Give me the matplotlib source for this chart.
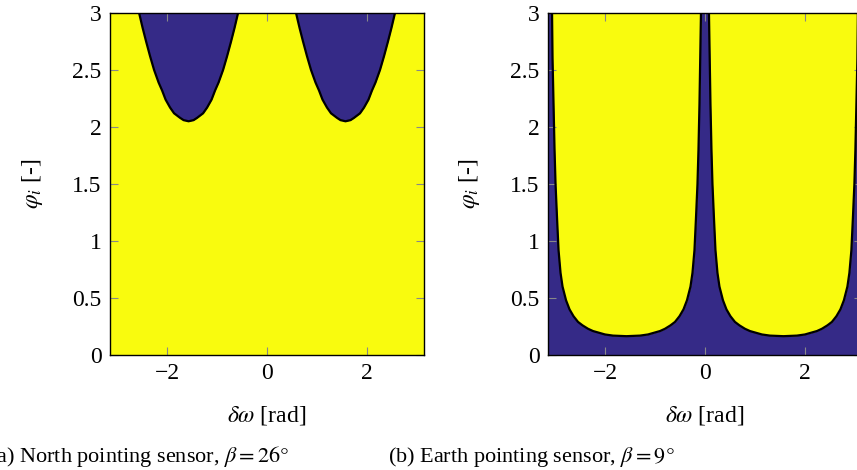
#!/usr/bin/env python3
"""Feasible attitude regions for the two sensor configurations."""

import matplotlib
matplotlib.use("Agg")
import matplotlib.pyplot as plt

# (a) north pointing sensor: infeasible lobes above the boundary
north_lobe1_x = [-2.56, -2.49, -2.42, -2.34, -2.26, -2.17, -2.10, -2.03,
                 -1.94, -1.86, -1.74, -1.67, -1.57, -1.47, -1.40, -1.28,
                 -1.20, -1.11, -1.04, -0.97, -0.88, -0.80, -0.72, -0.65,
                 -0.58]
north_lobe1_y = [3.00, 2.87, 2.75, 2.62, 2.50, 2.39, 2.32, 2.24,
                 2.17, 2.12, 2.08, 2.06, 2.05, 2.06, 2.08, 2.12,
                 2.17, 2.24, 2.32, 2.39, 2.50, 2.62, 2.75, 2.87,
                 3.00]
north_lobe2_x = [0.58, 0.65, 0.72, 0.80, 0.88, 0.97, 1.04, 1.11,
                 1.20, 1.28, 1.40, 1.47, 1.57, 1.67, 1.74, 1.86,
                 1.94, 2.03, 2.10, 2.17, 2.26, 2.34, 2.42, 2.49,
                 2.56]
north_lobe2_y = [3.00, 2.87, 2.75, 2.62, 2.50, 2.39, 2.32, 2.24,
                 2.17, 2.12, 2.08, 2.06, 2.05, 2.06, 2.08, 2.12,
                 2.17, 2.24, 2.32, 2.39, 2.50, 2.62, 2.75, 2.87,
                 3.00]

# (b) earth pointing sensor: feasible lobes above the boundary
earth_lobe1_x = [-3.06, -3.05, -3.03, -3.01, -2.99, -2.96, -2.93, -2.89,
                 -2.85, -2.78, -2.71, -2.63, -2.54, -2.45, -2.34, -2.24,
                 -2.12, -2.00, -1.84, -1.57, -1.30, -1.14, -1.02, -0.90,
                 -0.80, -0.69, -0.60, -0.51, -0.43, -0.36, -0.29, -0.25,
                 -0.21, -0.18, -0.15, -0.13, -0.11, -0.095, -0.08]
earth_lobe1_y = [3.00, 2.60, 2.20, 1.80, 1.50, 1.20, 0.92, 0.72,
                 0.60, 0.48, 0.40, 0.34, 0.29, 0.26, 0.23, 0.21,
                 0.195, 0.18, 0.17, 0.165, 0.17, 0.18, 0.195, 0.21,
                 0.23, 0.26, 0.29, 0.34, 0.40, 0.48, 0.60, 0.72,
                 0.92, 1.20, 1.50, 1.80, 2.20, 2.60, 3.00]
earth_lobe2_x = [0.08, 0.095, 0.11, 0.13, 0.15, 0.18, 0.21, 0.25,
                 0.29, 0.36, 0.43, 0.51, 0.60, 0.69, 0.80, 0.90,
                 1.02, 1.14, 1.30, 1.57, 1.84, 2.00, 2.12, 2.24,
                 2.34, 2.45, 2.54, 2.63, 2.71, 2.78, 2.85, 2.89,
                 2.93, 2.96, 2.99, 3.01, 3.03, 3.05, 3.06]
earth_lobe2_y = [3.00, 2.60, 2.20, 1.80, 1.50, 1.20, 0.92, 0.72,
                 0.60, 0.48, 0.40, 0.34, 0.29, 0.26, 0.23, 0.21,
                 0.195, 0.18, 0.17, 0.165, 0.17, 0.18, 0.195, 0.21,
                 0.23, 0.26, 0.29, 0.34, 0.40, 0.48, 0.60, 0.72,
                 0.92, 1.20, 1.50, 1.80, 2.20, 2.60, 3.00]

x_ticks = [-2, 0, 2]
y_ticks = [0, 0.5, 1, 1.5, 2, 2.5, 3]
y_tick_labels = ["0", "0.5", "1", "1.5", "2", "2.5", "3"]
captions = [r"(a) North pointing sensor, $\beta = 26°$",
            r"(b) Earth pointing sensor, $\beta = 9°$"]

YELLOW = "#f9fb0e"
BLUE = "#352a87"
X_MIN, X_MAX = -3.1416, 3.1416
Y_MIN, Y_MAX = 0, 3

plt.rcParams["font.family"] = ["Liberation Serif", "DejaVu Serif"]
plt.rcParams["mathtext.fontset"] = "stix"
plt.rcParams["font.size"] = 16


def style_axes(ax):
    ax.set_xlim(X_MIN, X_MAX)
    ax.set_ylim(Y_MIN, Y_MAX)
    ax.set_xticks(x_ticks)
    ax.set_xticklabels([f"{t}".replace("-", "\u2212") for t in x_ticks])
    ax.set_yticks(y_ticks)
    ax.set_yticklabels(y_tick_labels)
    ax.tick_params(direction="in", length=6, width=0.8, color="#888888",
                   top=True, right=True, labelsize=17, pad=6)
    for s in ax.spines.values():
        s.set_linewidth(1.0)
        s.set_color("black")
    ax.set_xlabel(r"$\delta\omega$ [rad]", fontsize=17, labelpad=14)
    ax.set_ylabel(r"$\varphi_i$ [-]", fontsize=17, labelpad=20)


fig = plt.figure(figsize=(8.57, 4.70), dpi=100)
ax1 = fig.add_axes([0.1284, 0.2447, 0.3664, 0.7277])
ax2 = fig.add_axes([0.6394, 0.2447, 0.3664, 0.7277])

ax1.set_facecolor(YELLOW)
for xs, ys in [(north_lobe1_x, north_lobe1_y), (north_lobe2_x, north_lobe2_y)]:
    ax1.fill_between(xs, ys, Y_MAX, color=BLUE, lw=0)
    ax1.plot(xs, ys, color="black", lw=1.6, solid_joinstyle="round")

ax2.set_facecolor(BLUE)
for xs, ys in [(earth_lobe1_x, earth_lobe1_y), (earth_lobe2_x, earth_lobe2_y)]:
    ax2.fill_between(xs, ys, Y_MAX, color=YELLOW, lw=0)
    ax2.plot(xs, ys, color="black", lw=1.6, solid_joinstyle="round")

style_axes(ax1)
style_axes(ax2)

fig.text(-0.013, 0.018, captions[0], fontsize=16, ha="left", va="baseline")
fig.text(0.453, 0.018, captions[1], fontsize=16, ha="left", va="baseline")

fig.savefig("out.png", dpi=100)
